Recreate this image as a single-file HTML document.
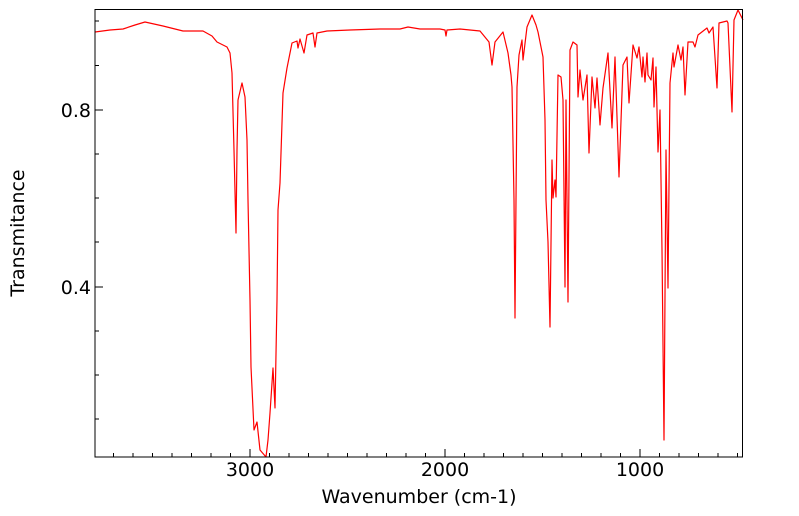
<!DOCTYPE html>
<html><head><style>body{margin:0;background:#fff}svg{display:block}text{font-family:"DejaVu Sans","Liberation Sans",sans-serif;font-size:19px;fill:#000}</style></head>
<body>
<svg width="799" height="516" viewBox="0 0 799 516">
<g stroke="#000" stroke-width="1">
<path d="M95,21h4M95,65.5h4M95,110h8M95,154h4M95,198h4M95,242h4M95,287h8M95,331h4M95,375h4M95,419h4"/>
</g>
<g stroke="#000" stroke-width="1" id="xticks"></g>
<polyline fill="none" stroke="#ff0000" stroke-width="1.2" stroke-linejoin="round" points="95,32 110,30 123,29 135,25 145,22 163,26 183,31 203,31 212,36 217,42 227,47 230,53 232,73 234,150 236,233 237,150 238,100 242,83 245,97 247,140 248,200 250,300 251,367 254,430 257,422 260,450 266,457 268,440 270,413 273,368 275,408 277,300 278,210 280,183 283,93 287,68 292,43 297,41 298,48 300,39 304,53 307,35 313,33 315,47 317,33 327,31 350,30 380,29 400,29 408,27 420,29 440,29 445,30 446,36 447,30 460,29 480,31 489,42 492,65 495,42 503,32 508,53 511,75 512,87 514,200 515,318 516,200 517,87 519,55 522,40 523,60 527,27 532,15 536,25 538,32 543,57 545,120 546,200 548,242 550,327 552,160 553,198 555,180 556,197 558,75 561,77 563,100 565,287 566,100 568,302 570,50 573,42 577,45 578,97 580,70 583,100 587,75 589,153 592,77 595,108 597,78 600,125 603,88 608,53 612,128 615,57 619,177 623,65 627,57 629,103 633,45 637,58 639,47 642,77 643,57 645,82 647,53 648,75 651,80 653,58 654,107 656,67 658,152 660,110 662,250 664,440 666,150 668,288 670,83 673,53 674,67 678,45 681,60 683,47 685,95 688,42 693,42 695,47 698,35 707,28 709,33 713,27 717,88 719,23 727,21 728,23 732,112 734,20 738,10 743,20"/>
<rect x="95" y="9.5" width="647.5" height="447.5" fill="none" stroke="#000" stroke-width="1"/>
<text x="91" y="117" text-anchor="end">0.8</text>
<text x="91" y="294" text-anchor="end">0.4</text>
<text x="250" y="476" text-anchor="middle">3000</text>
<text x="445" y="476" text-anchor="middle">2000</text>
<text x="640" y="476" text-anchor="middle">1000</text>
<text x="419" y="503" text-anchor="middle">Wavenumber (cm-1)</text>
<text transform="translate(24,233) rotate(-90)" text-anchor="middle">Transmitance</text>
<script>
var g=document.getElementById('xticks'),d='';
for(var w=3700;w>=500;w-=100){var x=445-(w-2000)*0.195;var L=(w%1000==0)?8:4;d+='M'+x.toFixed(1)+',457v-'+L;}
var p=document.createElementNS('http://www.w3.org/2000/svg','path');p.setAttribute('d',d);g.appendChild(p);
</script>
</svg>
</body></html>
